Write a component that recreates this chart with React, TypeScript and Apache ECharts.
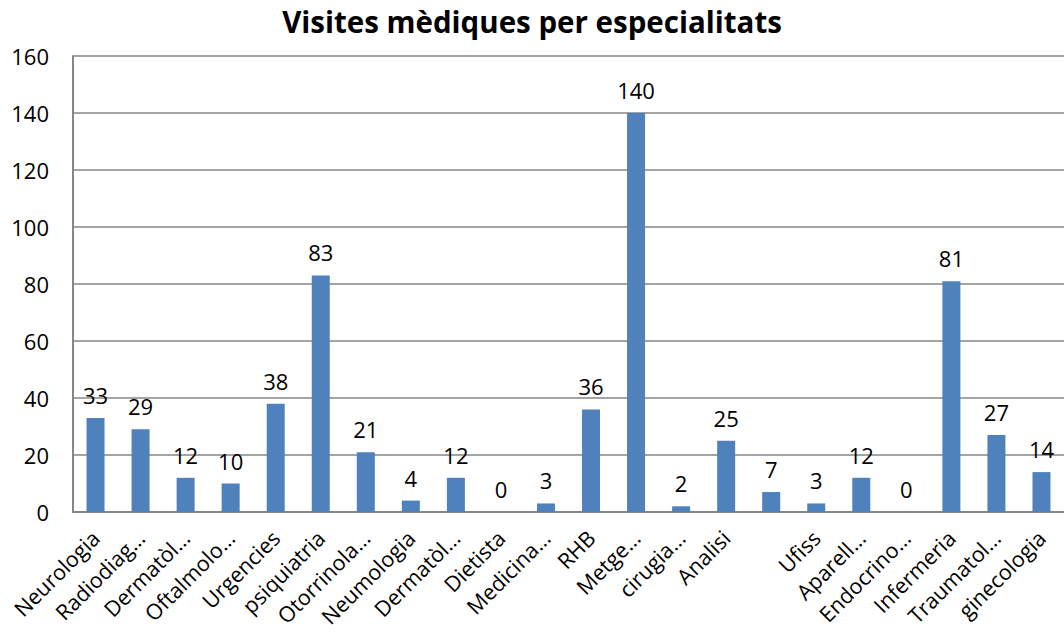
import React, { useEffect, useRef } from "react";
import * as echarts from "echarts";

const categories = [
  "Neurologia", "Radiodiag…", "Dermatòl…", "Oftalmolo…", "Urgencies", "psiquiatria",
  "Otorrinola…", "Neumologia", "Dermatòl…", "Dietista", "Medicina…", "RHB", "Metge…",
  "cirugia…", "Analisi", "", "Ufiss", "Aparell…", "Endocrino…", "Infermeria",
  "Traumatol…", "ginecologia",
];
const visits = [33, 29, 12, 10, 38, 83, 21, 4, 12, 0, 3, 36, 140, 2, 25, 7, 3, 12, 0, 81, 27, 14];
const yTicks = { min: 0, max: 160, interval: 20 };

const FONT = "'Open Sans', Lato, sans-serif";

export default function App() {
  const ref = useRef<HTMLDivElement>(null);
  useEffect(() => {
    if (!ref.current) return;
    const chart = echarts.init(ref.current, null, { renderer: "svg" });
    chart.setOption({
      animation: false,
      backgroundColor: "#ffffff",
      title: {
        text: "Visites mèdiques per especialitats",
        left: "center",
        top: 1,
        textStyle: { fontFamily: FONT, fontWeight: "bold", fontSize: 29.5, color: "#000" },
      },
      grid: { left: 73, right: 0, top: 56, bottom: 120, containLabel: false },
      xAxis: {
        type: "category",
        data: categories,
        axisLine: { lineStyle: { color: "#868686", width: 2 } },
        axisTick: { show: false },
        axisLabel: {
          interval: 0,
          rotate: 45,
          margin: 22,
          fontFamily: FONT,
          fontSize: 21.5,
          color: "#000",
        },
      },
      yAxis: {
        type: "value",
        min: yTicks.min,
        max: yTicks.max,
        interval: yTicks.interval,
        axisLine: { show: true, lineStyle: { color: "#868686", width: 2 } },
        axisTick: { show: false },
        splitLine: { lineStyle: { color: "#868686", width: 1.5 } },
        axisLabel: { fontFamily: FONT, fontSize: 22, color: "#000", margin: 24 },
      },
      series: [
        {
          type: "bar",
          data: visits,
          barWidth: 18,
          itemStyle: { color: "#4F81BD" },
          label: {
            show: true,
            position: "top",
            distance: 12,
            fontFamily: FONT,
            fontSize: 22,
            color: "#000",
          },
        },
      ],
    });
    return () => chart.dispose();
  }, []);
  return <div ref={ref} style={{ width: 1064, height: 632, position: "absolute", left: 0, top: 0 }} />;
}
